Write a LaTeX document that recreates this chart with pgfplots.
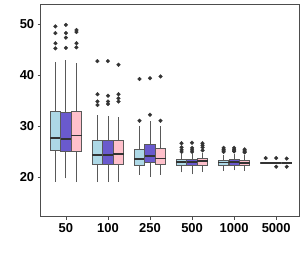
\documentclass[border=0pt]{standalone}
\usepackage{fontspec}
\setmainfont{Liberation Sans}
\usepackage{pgfplots}
\pgfplotsset{compat=1.18}
\definecolor{cLB}{HTML}{ADD8E6}
\definecolor{cPU}{HTML}{6A5ACD}
\definecolor{cPK}{HTML}{FFC0CB}
\definecolor{boxgray}{HTML}{595959}
\definecolor{dotgray}{HTML}{333333}
\definecolor{axisgray}{HTML}{4D4D4D}
\pgfplotsset{olstyle/.style={only marks, mark=*, mark size=1.9pt, color=dotgray, mark options={solid, fill=dotgray, draw=dotgray, line width=0.3pt}}}
% pos, lower whisker, lower quartile, median, upper quartile, upper whisker, fill
\newcommand{\bx}[7]{%
  \pgfmathsetmacro\xa{#1-0.1225}\pgfmathsetmacro\xb{#1+0.1225}%
  \edef\doplots{%
  \noexpand\addplot[draw=boxgray, line width=0.9pt] coordinates {(#1,#2) (#1,#6)};
  \noexpand\addplot[fill=#7, draw=boxgray, line width=0.9pt] coordinates {(\xa,#3) (\xb,#3) (\xb,#5) (\xa,#5)} --cycle;
  \noexpand\addplot[draw=dotgray, line width=1.4pt] coordinates {(\xa,#4) (\xb,#4)};
  }\doplots}
\begin{document}
\begin{tikzpicture}
\useasboundingbox (-40.7bp,-39.3bp) rectangle (266.3bp,216.7bp);
\begin{axis}[
  at={(0,0)}, anchor=south west,
  scale only axis, width=258.6bp, height=212.7bp,
  xmin=-0.6, xmax=5.55, ymin=12.2, ymax=53.9,
  xtick={0,1,2,3,4,5}, xticklabels={50,100,250,500,1000,5000},
  ytick={20,30,40,50},
  tick pos=left, tick align=outside, major tick length=3bp,
  tick style={draw=axisgray, line width=0.6pt},
  axis line style={draw=axisgray, line width=0.8pt},
  /pgf/number format/assume math mode=true,
  tick label style={font=\fontsize{13}{15}\selectfont\bfseries},
]
% group 50
\bx{-0.25}{19.1}{25.1}{27.6}{32.9}{42.6}{cLB}
\bx{0}{19.7}{25.0}{27.4}{32.6}{42.9}{cPU}
\bx{0.25}{19.0}{24.9}{28.1}{32.9}{42.4}{cPK}
\addplot[olstyle] coordinates {(-0.25,49.5) (-0.25,48.2) (-0.25,46.2) (-0.25,45.2)
  (0,49.8) (0,48.2) (0,47.3) (0,45.3) (0.25,48.8) (0.25,48.4) (0.25,46.2) (0.25,45.4)};
% group 100
\bx{0.75}{19.0}{22.5}{24.3}{27.1}{32.2}{cLB}
\bx{1}{19.0}{22.5}{24.3}{27.1}{32.0}{cPU}
\bx{1.25}{19.1}{22.5}{24.5}{27.2}{31.7}{cPK}
\addplot[olstyle] coordinates {(0.75,42.7) (0.75,36.2) (0.75,34.8) (0.75,34.1)
  (1,42.7) (1,35.9) (1,34.8) (1,34.3) (1.25,42.0) (1.25,36.2) (1.25,35.4) (1.25,34.8)};
% group 250
\bx{1.75}{20.4}{22.3}{23.5}{25.4}{29.9}{cLB}
\bx{2}{20.0}{22.8}{24.1}{26.4}{31.0}{cPU}
\bx{2.25}{20.4}{22.35}{23.6}{25.6}{29.9}{cPK}
\addplot[olstyle] coordinates {(1.75,39.2) (1.75,31.0) (2,39.35) (2,32.2) (2.25,39.7) (2.25,31.0)};
% group 500
\bx{2.75}{20.9}{22.25}{22.9}{23.5}{24.5}{cLB}
\bx{3}{20.5}{22.2}{22.9}{23.5}{24.5}{cPU}
\bx{3.25}{21.0}{22.2}{23.1}{23.6}{24.6}{cPK}
\addplot[olstyle] coordinates {(2.75,26.6) (2.75,25.8) (2.75,25.3) (2.75,24.9)
  (3,26.7) (3,25.7) (3,25.3) (3,24.9) (3.25,26.6) (3.25,26.2) (3.25,25.8) (3.25,25.2)};
% group 1000
\bx{3.75}{21.2}{22.2}{22.8}{23.3}{24.3}{cLB}
\bx{4}{21.3}{22.3}{22.9}{23.4}{24.4}{cPU}
\bx{4.25}{21.2}{22.2}{22.7}{23.2}{24.2}{cPK}
\addplot[olstyle] coordinates {(3.75,25.7) (3.75,25.4) (3.75,25.1) (3.75,24.9)
  (4,25.7) (4,25.4) (4,25.1) (4,25.0) (4.25,25.4) (4.25,25.1) (4.25,24.9) (4.25,24.8)};
% group 5000
\bx{4.75}{22.6}{22.65}{22.7}{22.75}{22.8}{cLB}
\bx{5}{22.6}{22.65}{22.7}{22.75}{22.8}{cPU}
\bx{5.25}{22.6}{22.65}{22.7}{22.75}{22.8}{cPK}
\addplot[olstyle] coordinates {(4.75,23.7) (5,23.7) (5,22.0) (5.25,23.6) (5.25,22.0)};
\end{axis}
\end{tikzpicture}
\end{document}
